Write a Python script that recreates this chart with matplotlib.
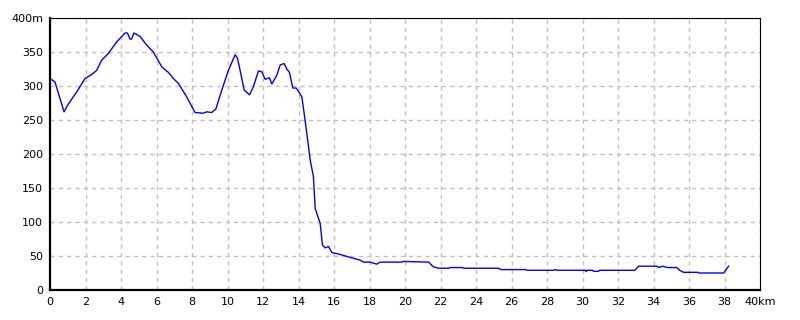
import numpy as np
import matplotlib
matplotlib.use('Agg')
import matplotlib.pyplot as plt

# distance (km) and elevation (m)
dist_km = [0.0, 0.06, 0.28, 0.79, 1.0, 1.31, 1.5, 1.69, 1.97, 2.3, 2.63, 2.91, 3.29, 3.76,
           4.23, 4.36, 4.51, 4.6, 4.73, 5.07, 5.45, 5.82, 6.3, 6.67, 6.95, 7.23, 7.7,
           8.17, 8.64, 8.83, 9.11, 9.34, 9.68, 10.05, 10.43, 10.56, 10.71, 10.94, 11.24,
           11.46, 11.74, 11.93, 12.12, 12.36, 12.5, 12.78, 12.97, 13.19, 13.34, 13.49,
           13.68, 13.87, 14.0, 14.19, 14.37, 14.66, 14.84, 14.94, 15.22, 15.35, 15.5,
           15.69, 15.88, 16.25, 16.9, 17.47, 17.66, 18.04, 18.41, 18.6, 19.82, 19.9,
           21.33, 21.6, 21.89, 22.45, 22.55, 23.24, 23.3, 25.27, 25.4, 26.78, 26.9,
           28.37, 28.47, 28.56, 30.16, 30.2, 30.24, 30.57, 30.62, 30.9, 30.97, 32.94,
           33.16, 34.2, 34.3, 34.5, 34.8, 35.32, 35.47, 35.7, 36.49, 36.55, 37.95, 38.23]
elev_m = [311, 310, 306, 262, 272, 284, 291, 299, 311, 316, 323, 338, 348, 365,
          378, 378, 369, 369, 378, 373, 360, 350, 328, 320, 311, 304, 284,
          261, 260, 262, 261, 266, 294, 323, 346, 341, 323, 294, 287,
          299, 322, 321, 310, 312, 303, 316, 331, 333, 325, 320,
          297, 297, 292, 284, 250, 191, 167, 120, 98, 66, 62,
          64, 55, 53, 48, 44, 41, 41, 38, 41, 41, 42,
          41, 34, 32, 32, 33, 33, 32, 32, 30, 30, 29,
          29, 30, 29, 29, 27, 29, 29, 27.5, 27.5, 29, 29,
          35, 35, 33, 35, 33, 33, 29, 26, 26, 25, 25, 35]

x_ticks = list(range(0, 41, 2))
x_labels = [str(v) for v in x_ticks[:-1]] + ['40km']
y_ticks = list(range(0, 401, 50))
y_labels = [str(v) for v in y_ticks[:-1]] + ['400m']

fig = plt.figure(figsize=(8, 3.2), dpi=100)
ax = fig.add_axes([50 / 800, 30 / 320, 710 / 800, 272 / 320])

ax.plot(dist_km, elev_m, color='#0000ff', lw=1.0)

ax.set_xlim(0, 40)
ax.set_ylim(0, 400)
ax.set_xticks(x_ticks)
ax.set_xticklabels(x_labels)
ax.set_yticks(y_ticks)
ax.set_yticklabels(y_labels)
ax.tick_params(length=0, labelsize=8, pad=5)
ax.grid(True, color='#c0c0c0', linestyle=(0, (3, 3)), lw=1)
for side in ['top', 'right']:
    ax.spines[side].set_linewidth(0.8)
for side in ['left', 'bottom']:
    ax.spines[side].set_linewidth(1.6)

fig.savefig('out.png', dpi=100)
